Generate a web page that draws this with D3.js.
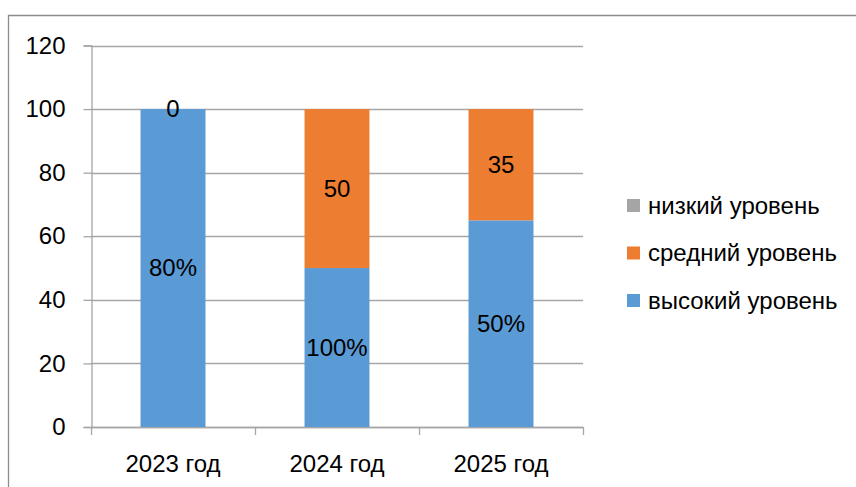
<!DOCTYPE html>
<html><head><meta charset="utf-8">
<script src="https://cdn.jsdelivr.net/npm/d3@7"></script>
<style>body{margin:0;background:#fff;} text{font-family:"Liberation Sans",Arial,sans-serif;fill:#000;}</style>
</head><body>
<svg id="c" width="856" height="487"></svg>
<script>
const categories = ["2023 год", "2024 год", "2025 год"];
const seriesNames = ["высокий уровень", "средний уровень", "низкий уровень"];
const high = [100, 50, 65];
const mid = [0, 50, 35];
const low = [0, 0, 0];
const highLabels = ["80%", "100%", "50%"];
const midLabels = ["0", "50", "35"];
const yTicks = [0, 20, 40, 60, 80, 100, 120];
const colors = ["#5B9BD5", "#ED7D31", "#A5A5A5"];

(function(){
const svg = d3.select("#c");
const pL = 91, pR = 583, pT = 45.5, pB = 427;
const fs = 24;

svg.append("path").attr("d", "M8.5,487 L8.5,15.5 L856,15.5").attr("fill","none").attr("stroke","#8c8c8c").attr("stroke-width",1.3);

const y = d3.scaleLinear().domain([0,120]).range([pB, pT]);
const x = d3.scaleBand().domain(categories).range([pL, pR]).paddingInner(0.604).paddingOuter(0.302);

svg.append("g").selectAll("line").data(yTicks).join("line")
  .attr("x1", pL).attr("x2", pR)
  .attr("y1", d => Math.round(y(d))+0.5).attr("y2", d => Math.round(y(d))+0.5)
  .attr("stroke", "#a6a6a6").attr("stroke-width", 1.3);

const yAxis = svg.append("g").attr("transform", `translate(${pL+0.5},0)`)
  .call(d3.axisLeft(y).tickValues(yTicks).tickSize(8).tickPadding(18));
yAxis.select(".domain").attr("stroke","#a6a6a6").attr("stroke-width",1.3);
yAxis.selectAll(".tick line").attr("stroke","#a6a6a6").attr("stroke-width",1.3);
yAxis.selectAll("text").style("font-size", fs+"px").style("font-family","Liberation Sans").attr("fill","#000");

const step = x.step();
const boundaries = [0,1,2,3].map(i => pL + i*step);
svg.append("line").attr("x1", pL).attr("x2", pR).attr("y1", pB+0.5).attr("y2", pB+0.5)
  .attr("stroke","#a6a6a6").attr("stroke-width",1.3);
svg.append("g").selectAll("line").data(boundaries).join("line")
  .attr("x1", d => Math.round(d)+0.5).attr("x2", d => Math.round(d)+0.5)
  .attr("y1", pB).attr("y2", pB+8)
  .attr("stroke","#a6a6a6").attr("stroke-width",1.3);
svg.append("g").selectAll("text").data(categories).join("text")
  .attr("x", d => x(d) + x.bandwidth()/2).attr("y", 472)
  .attr("text-anchor","middle").style("font-size", fs+"px").text(d => d);

const rows = categories.map((c,i) => ({cat:c, high:high[i], mid:mid[i], low:low[i]}));
const stack = d3.stack().keys(["high","mid","low"])(rows);
stack.forEach((layer, li) => {
  svg.append("g").selectAll("rect").data(layer).join("rect")
    .attr("x", d => x(d.data.cat)).attr("width", x.bandwidth())
    .attr("y", d => y(d[1])).attr("height", d => y(d[0]) - y(d[1]))
    .attr("fill", colors[li]);
});

const labelSets = [highLabels, midLabels];
[0,1].forEach(li => {
  svg.append("g").selectAll("text").data(stack[li]).join("text")
    .attr("x", d => x(d.data.cat) + x.bandwidth()/2)
    .attr("y", d => (y(d[0]) + y(d[1]))/2)
    .attr("dy", "0.35em").attr("text-anchor","middle")
    .style("font-size", fs+"px")
    .text((d,i) => labelSets[li][i]);
});

const legendOrder = [2,1,0];
const lg = svg.append("g");
legendOrder.forEach((si, k) => {
  const cy = 205.5 + k*47.5;
  lg.append("rect").attr("x", 627).attr("y", cy-6.5).attr("width", 13).attr("height", 13).attr("fill", colors[si]);
  lg.append("text").attr("x", 648).attr("y", cy).attr("dy","0.35em").style("font-size", fs+"px").text(seriesNames[si]);
});
})();
</script>
</body></html>
